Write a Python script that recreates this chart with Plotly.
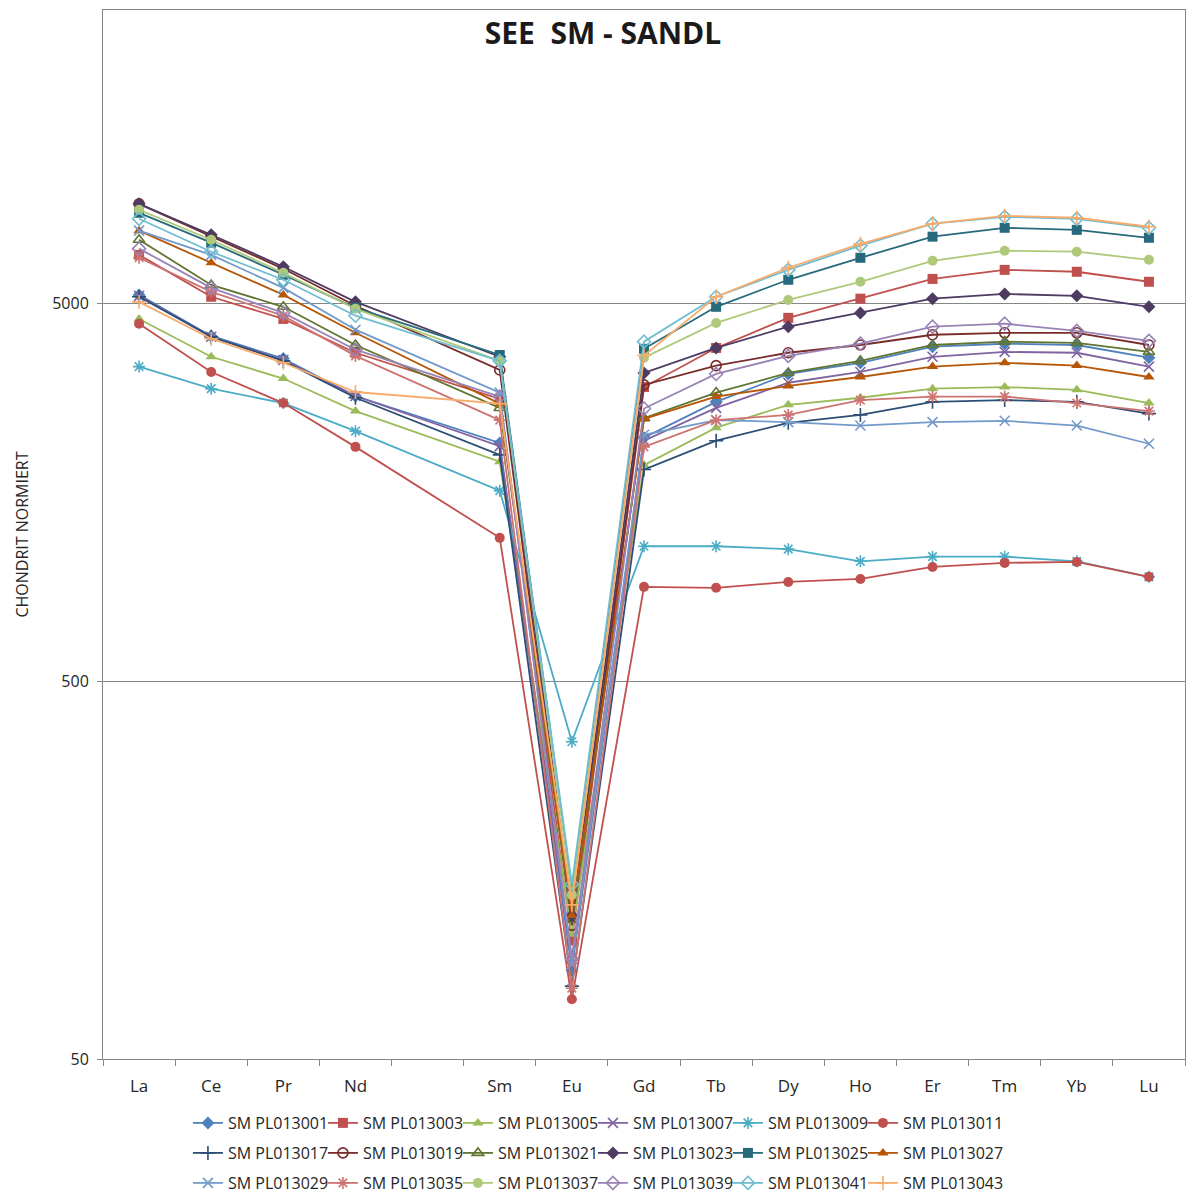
import plotly.graph_objects as go

# Element axis (Pm slot left empty, as in the reference)
elements = ["La", "Ce", "Pr", "Nd", "Pm", "Sm", "Eu", "Gd", "Tb", "Dy", "Ho", "Er", "Tm", "Yb", "Lu"]
tick_labels = ["La", "Ce", "Pr", "Nd", "", "Sm", "Eu", "Gd", "Tb", "Dy", "Ho", "Er", "Tm", "Yb", "Lu"]
plotted = ["La", "Ce", "Pr", "Nd", "Sm", "Eu", "Gd", "Tb", "Dy", "Ho", "Er", "Tm", "Yb", "Lu"]

# Chondrite-normalised values
pl013001 = [5280, 4110, 3580, 2850, 2140, 86, 2210, 2750, 3260, 3490, 3850, 3920, 3890, 3600]
pl013003 = [6740, 5220, 4560, 3710, 2800, 103, 3010, 3820, 4590, 5160, 5820, 6150, 6080, 5720]
pl013005 = [4560, 3620, 3170, 2600, 1910, 107, 1870, 2350, 2700, 2820, 2980, 3010, 2960, 2730]
pl013007 = [5250, 4090, 3550, 2850, 2100, 92, 2170, 2650, 3090, 3300, 3620, 3730, 3710, 3410]
pl013009 = [3410, 2980, 2730, 2300, 1600, 346, 1140, 1140, 1120, 1040, 1070, 1070, 1040, 946]
pl013011 = [4430, 3300, 2730, 2090, 1200, 72, 890, 885, 917, 934, 1005, 1030, 1036, 946]
pl013017 = [5220, 4090, 3530, 2820, 1990, 78, 1820, 2170, 2420, 2540, 2750, 2780, 2750, 2560]
pl013019 = [9200, 7530, 6190, 4940, 3340, 113, 3050, 3430, 3710, 3890, 4140, 4190, 4190, 3890]
pl013021 = [7390, 5610, 4910, 3890, 2650, 117, 2490, 2910, 3280, 3530, 3890, 3970, 3940, 3730]
pl013023 = [9200, 7620, 6270, 5060, 3620, 120, 3280, 3820, 4350, 4730, 5160, 5310, 5250, 4910]
pl013025 = [8710, 7260, 5970, 4880, 3660, 140, 3800, 4910, 5790, 6620, 7530, 7950, 7850, 7480]
pl013027 = [7810, 6420, 5280, 4190, 2720, 120, 2480, 2840, 3030, 3200, 3410, 3490, 3430, 3200]
pl013029 = [7810, 6740, 5510, 4270, 2910, 89, 2250, 2460, 2430, 2380, 2430, 2450, 2380, 2130]
pl013035 = [6620, 5380, 4650, 3640, 2460, 77, 2090, 2460, 2540, 2780, 2840, 2840, 2730, 2600]
pl013037 = [8870, 7390, 6040, 4850, 3530, 136, 3600, 4450, 5120, 5720, 6500, 6910, 6870, 6540]
pl013039 = [7000, 5510, 4730, 3780, 2840, 92, 2640, 3260, 3640, 3920, 4350, 4430, 4240, 3990]
pl013041 = [8400, 6870, 5790, 4650, 3530, 145, 3970, 5220, 6150, 7130, 8150, 8500, 8400, 7950]
pl013043 = [5060, 4040, 3490, 2920, 2720, 128, 3650, 5220, 6230, 7210, 8150, 8550, 8450, 8000]

sample_names = ["SM PL013001", "SM PL013003", "SM PL013005", "SM PL013007", "SM PL013009", "SM PL013011",
                "SM PL013017", "SM PL013019", "SM PL013021", "SM PL013023", "SM PL013025", "SM PL013027",
                "SM PL013029", "SM PL013035", "SM PL013037", "SM PL013039", "SM PL013041", "SM PL013043"]
sample_values = [pl013001, pl013003, pl013005, pl013007, pl013009, pl013011,
                 pl013017, pl013019, pl013021, pl013023, pl013025, pl013027,
                 pl013029, pl013035, pl013037, pl013039, pl013041, pl013043]

colors = ["#4F81BD", "#C0504D", "#9BBB59", "#8064A2", "#4BACC6", "#C0504D",
          "#2C4D75", "#772C2A", "#5F7530", "#4D3B62", "#276A7C", "#B65708",
          "#729ACA", "#CD7371", "#AFC97A", "#9983B5", "#6FBDD1", "#F9AB6B"]
symbols = ["diamond", "square", "triangle-up", "x-thin-open", "asterisk-open", "circle",
           "cross-thin-open", "circle-open", "triangle-up-open", "diamond", "square", "triangle-up",
           "x-thin-open", "asterisk-open", "circle", "diamond-open", "diamond-open", "cross-thin-open"]
legend_ids = ["legend"] * 6 + ["legend2"] * 6 + ["legend3"] * 6

x_pos = [elements.index(e) for e in plotted]

fig = go.Figure()
for i, (name, vals, col, sym, lg) in enumerate(zip(sample_names, sample_values, colors, symbols, legend_ids)):
    open_like = sym.endswith("open")
    fig.add_trace(go.Scatter(
        x=x_pos, y=vals, name=name, mode="lines+markers",
        line=dict(color=col, width=1.8),
        marker=dict(symbol=sym, size=10, color=col,
                    line=dict(color=col, width=1.6 if open_like else 0)),
        legend=lg,
        legendwidth=115 if i % 6 == 5 else None,
    ))

leg_common = dict(orientation="h", x=0.0785, xanchor="left", yanchor="middle",
                  font=dict(family="Open Sans", size=16, color="#262626"),
                  entrywidth=90, entrywidthmode="pixels", itemwidth=30,
                  bgcolor="rgba(0,0,0,0)", borderwidth=0)

fig.update_layout(
    width=1186, height=1193,
    margin=dict(l=103, r=1, t=10, b=134, autoexpand=False),
    paper_bgcolor="white", plot_bgcolor="white",
    title=dict(text="SEE\u00a0 SM - SANDL", x=603 / 1186, y=1 - 33 / 1193,
               xanchor="center", yanchor="middle", xref="container", yref="container",
               font=dict(family="Open Sans", size=30, color="#1a1a1a", weight="bold")),
    legend=dict(y=-0.061, **leg_common),
    legend2=dict(y=-0.0896, **leg_common),
    legend3=dict(y=-0.1182, **leg_common),
    xaxis=dict(range=[-0.5, 14.5], tickmode="array", tickvals=list(range(len(elements))),
               ticktext=tick_labels, ticks="", showgrid=False, zeroline=False,
               showline=True, linecolor="#868686", linewidth=1, mirror=True, automargin=False,
               tickfont=dict(family="Open Sans", size=17, color="#262626"),
               ticklabelstandoff=12,
               minor=dict(ticks="outside", tick0=0.5, dtick=1, ticklen=6, tickcolor="#868686",
                          showgrid=False)),
    yaxis=dict(type="log", range=[1.69897, 4.47712], tickmode="array", tickvals=[50, 500, 5000],
               ticktext=["50", "500", "5000"], ticks="outside", ticklen=5, tickcolor="#868686",
               showgrid=True, gridcolor="#868686", gridwidth=1, zeroline=False,
               showline=True, linecolor="#868686", linewidth=1, mirror=True, automargin=False,
               ticklabelstandoff=5,
               tickfont=dict(family="Open Sans", size=16, color="#262626"),
               title=dict(text="CHONDRIT NORMIERT", standoff=19,
                          font=dict(family="Open Sans", size=16, color="#262626"))),
    showlegend=True,
)

fig.write_html("out.html", config={"displayModeBar": False},
               post_script="document.body.style.margin='0';document.body.style.padding='0';")
